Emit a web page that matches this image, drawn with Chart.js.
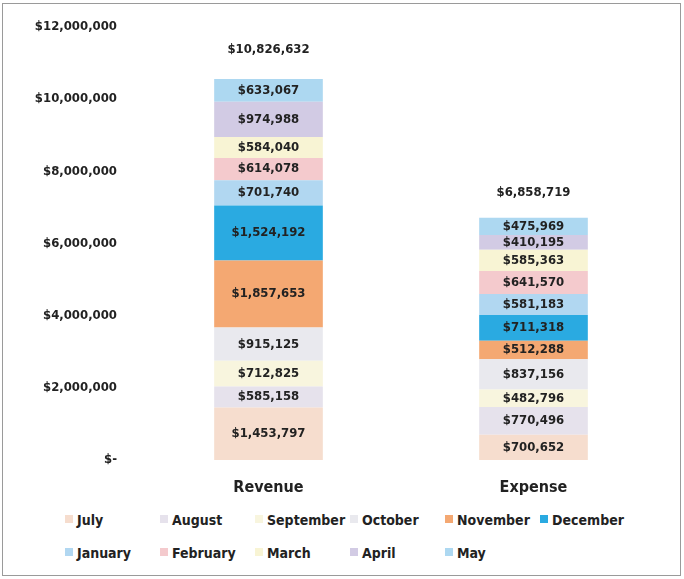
<!DOCTYPE html>
<html lang="en">
<head>
    <meta charset="UTF-8">
    <title>Revenue vs Expense</title>
    <script src="https://cdn.jsdelivr.net/npm/chart.js"></script>
    <style>
        body {
            margin: 0;
            background: white;
            font-family: "Liberation Sans Narrow", "DejaVu Sans Condensed", sans-serif;
        }
        .frame {
            position: absolute;
            left: 2px;
            top: 3px;
            width: 677px;
            height: 571px;
            border: 1px solid #9a9a9a;
        }
        .chart-box {
            position: absolute;
            left: 0;
            top: 0;
            width: 684px;
            height: 500px;
        }
        #legend {
            position: absolute;
            left: 65px;
            top: 511px;
            width: 620px;
            display: grid;
            grid-template-columns: repeat(6, 95px);
            row-gap: 15px;
            font-weight: bold;
            font-size: 14px;
            line-height: 18px;
            color: #222;
            white-space: nowrap;
        }
        #legend span.box {
            display: inline-block;
            width: 8px;
            height: 8px;
            margin-right: 4px;
            vertical-align: 2px;
        }
    </style>
</head>
<body>
    <div class="frame"></div>
    <div class="chart-box"><canvas id="chart" width="684" height="500"></canvas></div>
    <div id="legend"></div>
    <script>
        const categories = ["Revenue", "Expense"];
        const months = ["July", "August", "September", "October", "November", "December",
                        "January", "February", "March", "April", "May"];
        const revenue = [1453797, 585158, 712825, 915125, 1857653, 1524192,
                         701740, 614078, 584040, 974988, 633067];
        const expense = [700652, 770496, 482796, 837156, 512288, 711318,
                         581183, 641570, 585363, 410195, 475969];
        const totals = [10826632, 6858719];
        const colors = ["#f6ddce", "#e6e2ec", "#f8f5de", "#e9e9ee", "#f4a872", "#2aaae1",
                        "#b1d7f1", "#f4cacd", "#f8f4d4", "#d2cbe4", "#add8f1"];
        const yTicks = [0, 2000000, 4000000, 6000000, 8000000, 10000000, 12000000];

        const money = v => "$" + v.toLocaleString("en-US");
        const font = "Liberation Sans Narrow, DejaVu Sans Condensed, sans-serif";
        const textColor = "#222";

        const datasets = months.map((m, i) => ({
            label: m,
            data: [revenue[i], expense[i]],
            backgroundColor: colors[i],
            borderWidth: 0,
            barPercentage: 0.41,
            categoryPercentage: 1
        }));

        const labelPlugin = {
            id: "labels",
            afterDatasetsDraw(chart) {
                const ctx = chart.ctx;
                ctx.save();
                ctx.fillStyle = textColor;
                ctx.textAlign = "center";
                ctx.textBaseline = "middle";
                ctx.font = "bold 13px " + font;
                chart.data.datasets.forEach((ds, i) => {
                    chart.getDatasetMeta(i).data.forEach((bar, j) => {
                        const mid = (bar.y + bar.base) / 2;
                        ctx.fillText(money(ds.data[j]), bar.x, mid);
                    });
                });
                const y = chart.scales.y;
                const last = chart.getDatasetMeta(chart.data.datasets.length - 1);
                totals.forEach((t, j) => {
                    ctx.fillText(money(t), last.data[j].x, y.getPixelForValue(t) - 20);
                });
                ctx.restore();
            }
        };

        new Chart(document.getElementById("chart"), {
            type: "bar",
            data: { labels: categories, datasets },
            options: {
                responsive: false,
                animation: false,
                layout: { padding: { left: 20, right: 18, top: 25, bottom: 0 } },
                plugins: { legend: { display: false }, tooltip: { enabled: false } },
                scales: {
                    x: {
                        stacked: true,
                        grid: { display: false, drawTicks: false },
                        border: { display: false },
                        ticks: { padding: 18, color: textColor, font: { family: font, size: 16, weight: "bold" } },
                        afterFit: s => { s.height = 40; }
                    },
                    y: {
                        stacked: true,
                        min: 0,
                        max: 12000000,
                        afterBuildTicks: s => { s.ticks = yTicks.map(v => ({ value: v })); },
                        grid: { display: false, drawTicks: false },
                        border: { display: false },
                        ticks: {
                            padding: 19,
                            color: textColor,
                            font: { family: font, size: 13, weight: "bold" },
                            callback: v => v === 0 ? "$-" : money(v)
                        },
                        afterFit: s => { s.width = 116; }
                    }
                }
            },
            plugins: [labelPlugin]
        });

        const legend = document.getElementById("legend");
        months.forEach((m, i) => {
            const item = document.createElement("div");
            item.innerHTML = '<span class="box" style="background:' + colors[i] + '"></span>' + m;
            legend.appendChild(item);
        });
    </script>
</body>
</html>
